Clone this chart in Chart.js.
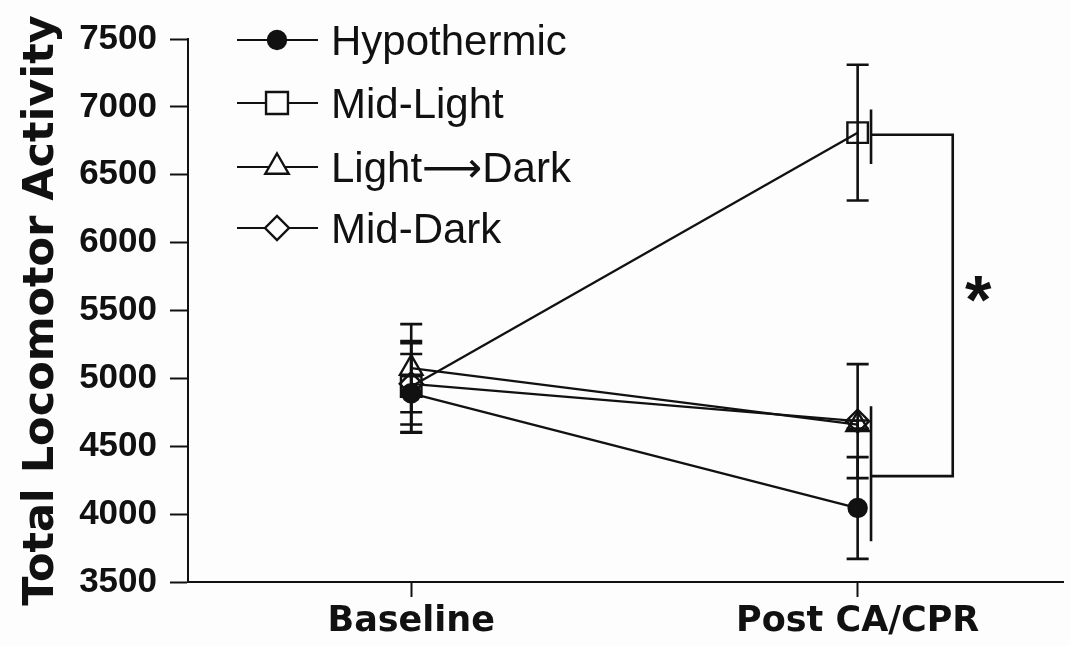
<!DOCTYPE html>
<html>
<head>
<meta charset="utf-8">
<script src="https://cdn.jsdelivr.net/npm/chart.js@4.4.1/dist/chart.umd.min.js"></script>
<style>
  html, body { margin: 0; padding: 0; background: #fdfdfd; }
  #activityChart { display: block; }
</style>
</head>
<body>
<canvas id="activityChart" width="1071" height="646"></canvas>
<script>
// datos
const categories = ['Baseline', 'Post CA/CPR']
const groups = ['Hypothermic', 'Mid-Light', 'Light\u27F6Dark', 'Mid-Dark']

const hypothermic = [4890, 4045]
const hypothermicErr = [290, 375]
const midLight = [4940, 6810]
const midLightErr = [335, 500]
const lightDark = [5075, 4660]
const lightDarkErr = [325, 30]
const midDark = [4960, 4685]
const midDarkErr = [300, 420]

const yMin = 3500
const yMax = 7500
const yStep = 500

// corchete de significancia (x en unidades de categoria, y en actividad)
const bracketX = [1.03, 1.213]
const bracketUpper = [6580, 6980, 6795]   // barra desde, hasta, union
const bracketLower = [3800, 4795, 4280]
const starPos = [1.27, 5660]

const ink = '#111'

const series = [
    { label: groups[0], values: hypothermic, err: hypothermicErr, style: 'circle', radius: 9, fill: ink },
    { label: groups[1], values: midLight, err: midLightErr, style: 'rect', radius: 14.5, fill: 'rgba(0,0,0,0)' },
    { label: groups[2], values: lightDark, err: lightDarkErr, style: 'triangle', radius: 13, fill: 'rgba(0,0,0,0)' },
    { label: groups[3], values: midDark, err: midDarkErr, style: 'rectRot', radius: 11.5, fill: 'rgba(0,0,0,0)' }
]

const datasets = series.map(s => ({
    label: s.label,
    data: s.values.map((v, i) => ({ x: i, y: v })),
    errors: s.err,
    borderColor: ink,
    borderWidth: 2.3,
    pointStyle: s.style,
    pointRadius: s.radius,
    pointBorderWidth: 2.4,
    pointBackgroundColor: s.fill,
    pointBorderColor: ink,
    fill: false,
    tension: 0
}))

// barras de error, se dibujan antes que los puntos
const errorBars = {
    id: 'errorBars',
    beforeDatasetsDraw(chart) {
        const { ctx, scales: { x, y } } = chart
        ctx.save()
        ctx.strokeStyle = ink
        ctx.lineWidth = 2.6
        chart.data.datasets.forEach(ds => {
            ds.data.forEach((p, i) => {
                const e = ds.errors[i]
                const px = x.getPixelForValue(p.x)
                const top = y.getPixelForValue(p.y + e)
                const bot = y.getPixelForValue(p.y - e)
                ctx.beginPath()
                ctx.moveTo(px, top); ctx.lineTo(px, bot)
                ctx.moveTo(px - 11, top); ctx.lineTo(px + 11, top)
                ctx.moveTo(px - 11, bot); ctx.lineTo(px + 11, bot)
                ctx.stroke()
            })
        })
        ctx.restore()
    }
}

// corchete y asterisco
const significance = {
    id: 'significance',
    afterDatasetsDraw(chart) {
        const { ctx, scales: { x, y } } = chart
        const xa = x.getPixelForValue(bracketX[0])
        const xb = x.getPixelForValue(bracketX[1])
        ctx.save()
        ctx.strokeStyle = ink
        ctx.lineWidth = 2.6
        ctx.beginPath()
        ctx.moveTo(xa, y.getPixelForValue(bracketUpper[0]))
        ctx.lineTo(xa, y.getPixelForValue(bracketUpper[1]))
        ctx.moveTo(xa, y.getPixelForValue(bracketLower[0]))
        ctx.lineTo(xa, y.getPixelForValue(bracketLower[1]))
        ctx.moveTo(xa, y.getPixelForValue(bracketUpper[2]))
        ctx.lineTo(xb, y.getPixelForValue(bracketUpper[2]))
        ctx.lineTo(xb, y.getPixelForValue(bracketLower[2]))
        ctx.lineTo(xa, y.getPixelForValue(bracketLower[2]))
        ctx.stroke()

        ctx.fillStyle = ink
        ctx.font = 'bold 68px "Liberation Sans", Arial, sans-serif'
        ctx.textAlign = 'center'
        ctx.textBaseline = 'alphabetic'
        const m = ctx.measureText('*')
        const cy = y.getPixelForValue(starPos[1])
        ctx.fillText('*', x.getPixelForValue(starPos[0]), cy + (m.actualBoundingBoxAscent - m.actualBoundingBoxDescent) / 2)
        ctx.restore()
    }
}

// leyenda dentro del area, linea con marcador y texto
const insideLegend = {
    id: 'insideLegend',
    afterDraw(chart) {
        const { ctx } = chart
        const rows = [40, 103, 167, 228]
        const legendRadius = [9, 15.5, 13.5, 12]
        ctx.save()
        ctx.font = '42px "Liberation Sans", "DejaVu Sans", Arial, sans-serif'
        ctx.textBaseline = 'alphabetic'
        ctx.fillStyle = ink
        series.forEach((s, i) => {
            const ry = rows[i]
            ctx.strokeStyle = ink
            ctx.lineWidth = 2.2
            ctx.beginPath()
            ctx.moveTo(237, ry); ctx.lineTo(318, ry)
            ctx.stroke()
            ctx.fillStyle = s.fill === ink ? ink : '#fdfdfd'
            ctx.lineWidth = 2.4
            Chart.helpers.drawPoint(ctx, { pointStyle: s.style, radius: legendRadius[i], borderWidth: 2.4 }, 277, ry)
            ctx.fillStyle = ink
            ctx.fillText(s.label, 331, ry + 15)
        })
        ctx.restore()
    }
}

new Chart('activityChart', {
    type: 'line',
    data: { datasets },
    options: {
        responsive: false,
        animation: false,
        devicePixelRatio: 1,
        layout: { autoPadding: false, padding: { top: 39, right: 8, left: 0, bottom: 0 } },
        plugins: {
            legend: { display: false },
            tooltip: { enabled: false }
        },
        scales: {
            x: {
                type: 'linear',
                min: -0.5,
                max: 1.46,
                afterBuildTicks: s => { s.ticks = categories.map((c, i) => ({ value: i })) },
                afterFit: s => { s.height = 64; s.paddingLeft = 0; s.paddingRight = 0 },
                ticks: {
                    callback: v => categories[Math.round(v)],
                    color: ink,
                    font: { family: '"DejaVu Sans"', weight: 'bold', size: 35 },
                    padding: 4,
                    maxRotation: 0,
                    autoSkip: false
                },
                grid: { drawOnChartArea: false, tickLength: 15, tickWidth: 2, tickColor: ink },
                border: { color: ink, width: 2 }
            },
            y: {
                min: yMin,
                max: yMax,
                afterFit: s => { s.width = 188 },
                ticks: {
                    stepSize: yStep,
                    callback: v => String(v),
                    color: ink,
                    font: { family: '"Liberation Sans"', weight: 'bold', size: 35 },
                    padding: 13
                },
                title: {
                    display: true,
                    text: 'Total Locomotor Activity',
                    color: ink,
                    font: { family: '"DejaVu Sans"', weight: 'bold', size: 43 },
                    padding: { top: 16, bottom: 0 }
                },
                grid: { drawOnChartArea: false, tickLength: 18, tickWidth: 2, tickColor: ink },
                border: { color: ink, width: 2 }
            }
        }
    },
    plugins: [errorBars, significance, insideLegend]
})
</script>
</body>
</html>
